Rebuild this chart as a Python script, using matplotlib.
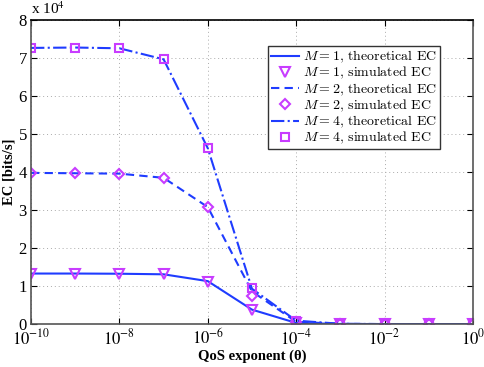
import matplotlib
matplotlib.use("Agg")
import matplotlib.pyplot as plt
import numpy as np
from matplotlib.ticker import FuncFormatter, FixedLocator, NullLocator

plt.rcParams['font.family'] = ['Liberation Serif', 'DejaVu Serif']
plt.rcParams['mathtext.fontset'] = 'stix'

theta = [1e-10, 1e-9, 1e-8, 1e-7, 1e-6, 1e-5, 1e-4, 1e-3, 1e-2, 1e-1, 1e0]
xtick_pos = [1e-10, 1e-8, 1e-6, 1e-4, 1e-2, 1e0]
xtick_labels = [r'$10^{-10}$', r'$10^{-8}$', r'$10^{-6}$', r'$10^{-4}$', r'$10^{-2}$', r'$10^{0}$']

# EC values in bits/s
ec_m1_theory = [13300, 13300, 13250, 13100, 11300, 3800, 300, 20, 0, 0, 0]
ec_m1_sim = [13300, 13200, 13200, 13100, 11100, 3700, 300, 20, 0, 0, 0]
ec_m2_theory = [39800, 39700, 39600, 38500, 30800, 8600, 600, 50, 0, 0, 0]
ec_m2_sim = [39800, 39700, 39600, 38500, 30800, 7400, 600, 50, 0, 0, 0]
ec_m4_theory = [72700, 72800, 72600, 69700, 46300, 9300, 900, 80, 0, 0, 0]
ec_m4_sim = [72700, 72800, 72600, 69700, 46300, 9500, 900, 80, 0, 0, 0]

line_c = '#1f3cff'
mark_c = '#c83cff'

fig = plt.figure(figsize=(4.85, 3.67), dpi=100)
ax = fig.add_axes([0.064, 0.117, 0.911, 0.828])

ax.plot(theta, ec_m1_theory, '-', color=line_c, lw=1.5, label=r'$M=1$, theoretical EC')
ax.plot(theta, ec_m1_sim, 'v', color=mark_c, mfc='none', mew=1.5, ms=7, label=r'$M=1$, simulated EC')
ax.plot(theta, ec_m2_theory, '--', color=line_c, lw=1.5, dashes=(4, 2.5), label=r'$M=2$, theoretical EC')
ax.plot(theta, ec_m2_sim, 'D', color=mark_c, mfc='none', mew=1.5, ms=5.5, label=r'$M=2$, simulated EC')
ax.plot(theta, ec_m4_theory, '-.', color=line_c, lw=1.5, label=r'$M=4$, theoretical EC')
ax.plot(theta, ec_m4_sim, 's', color=mark_c, mfc='none', mew=1.5, ms=6, label=r'$M=4$, simulated EC')

ax.set_xscale('log')
ax.set_xlim(1e-10, 1e0)
ax.set_ylim(0, 80000)
ax.xaxis.set_major_locator(FixedLocator(xtick_pos))
ax.set_xticklabels(xtick_labels)
ax.xaxis.set_minor_locator(NullLocator())
ax.set_yticks(np.arange(0, 80001, 10000))
ax.yaxis.set_major_formatter(FuncFormatter(lambda v, p: '%d' % round(v / 1e4)))
ax.tick_params(direction='in', top=True, right=True, labelsize=12, length=4)
ax.tick_params(axis='x', pad=3)
ax.tick_params(axis='y', pad=3)

ax.grid(True, linestyle=(0, (1, 3)), color='#aaaaaa', lw=0.7)
for s in ax.spines.values():
    s.set_color('#555555')
    s.set_linewidth(1.2)
ax.spines['top'].set_color('black')

ax.text(0.0, 1.01, r'x 10$^4$', transform=ax.transAxes, fontsize=11, ha='left', va='bottom')

ax.set_xlabel('QoS exponent (θ)', fontweight='bold', fontsize=10.5, labelpad=1)
ax.set_ylabel('EC [bits/s]', fontweight='bold', fontsize=10.5, labelpad=2)

leg = ax.legend(loc='upper right', bbox_to_anchor=(0.925, 0.914),
                prop={'family': 'cmr10', 'size': 10, 'math_fontfamily': 'cm'},
                fancybox=False, framealpha=1,
                edgecolor='#333333', handlelength=2.0, handletextpad=0.3,
                borderpad=0.2, labelspacing=0.0, borderaxespad=0)
leg.get_frame().set_linewidth(1.0)

fig.savefig('out.png', dpi=100)
